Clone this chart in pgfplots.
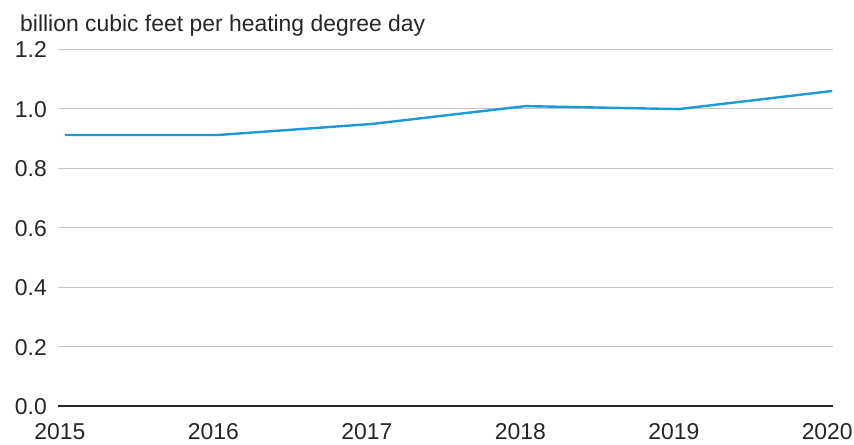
\documentclass[border=0pt]{standalone}
\usepackage{pgfplots}
\pgfplotsset{compat=1.18}
\usepackage{fontspec}
\setmainfont{Liberation Sans}
\definecolor{eiablue}{HTML}{1A9BD7}
\definecolor{gridgray}{HTML}{C4C4C4}
\begin{document}
\begin{tikzpicture}
\begin{axis}[
  scale only axis,
  width=775bp, height=357bp,
  xmin=2014.955, xmax=2020.005,
  ymin=0, ymax=1.2,
  ytick={0,0.2,0.4,0.6,0.8,1.0,1.2},
  yticklabels={0.0,0.2,0.4,0.6,0.8,1.0,1.2},
  xtick={2015,2016,2017,2018,2019,2020},
  xticklabels={2015,2016,2017,2018,2019,2020},
  axis line style={draw=none},
  tick style={draw=none},
  ymajorgrids,
  grid style={gridgray, line width=0.9bp},
  ticklabel style={font=\fontsize{23}{26}\selectfont, text=black!85, inner sep=0pt},
  yticklabel style={anchor=base east, xshift=-11bp, yshift=-9bp},
  xticklabel style={anchor=base, xshift=-5bp, yshift=-34bp},
  clip=false,
]
\addplot[eiablue, line width=2.4bp] coordinates {
  (2015,0.911) (2016,0.911) (2017,0.948) (2018,1.008) (2019,0.998) (2020,1.059)
};
\draw[black!85, line width=1.1bp] (axis cs:2014.955,0) -- (axis cs:2020.005,0);
\node[anchor=base west, font=\fontsize{23}{26}\selectfont, text=black!85, inner sep=0pt]
  at ([xshift=-38bp,yshift=17bp]rel axis cs:0,1) {billion cubic feet per heating degree day};
\end{axis}
\pgfresetboundingbox
\path[use as bounding box] (-58bp,-39bp) rectangle (796bp,406bp);
\end{tikzpicture}
\end{document}
